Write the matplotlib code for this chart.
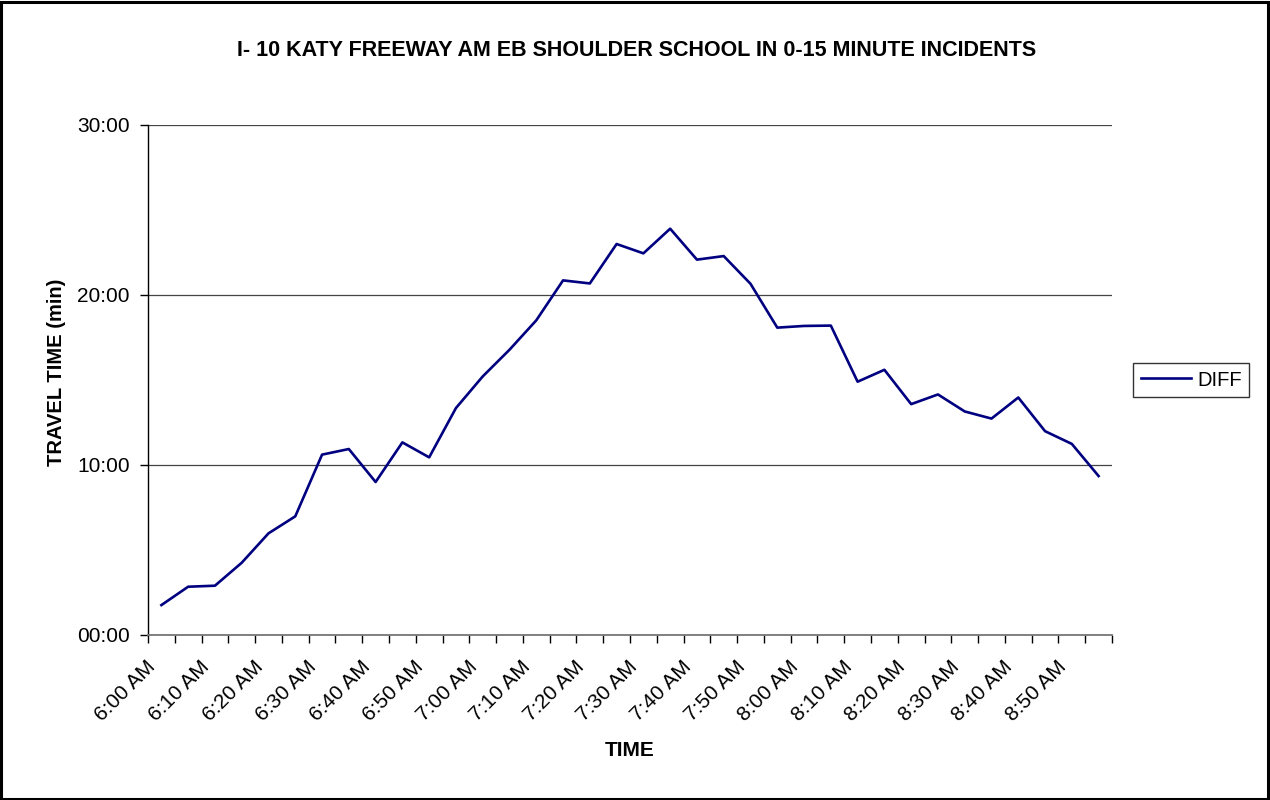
import matplotlib
matplotlib.use("Agg")
import matplotlib.pyplot as plt
from matplotlib.ticker import FuncFormatter, FixedLocator, NullFormatter
from matplotlib.patches import Rectangle

plt.rcParams['font.family'] = ['Liberation Sans', 'DejaVu Sans']

# Departure times (5-minute intervals) and travel time difference in minutes
times = ["6:00 AM", "6:05 AM", "6:10 AM", "6:15 AM", "6:20 AM", "6:25 AM",
         "6:30 AM", "6:35 AM", "6:40 AM", "6:45 AM", "6:50 AM", "6:55 AM",
         "7:00 AM", "7:05 AM", "7:10 AM", "7:15 AM", "7:20 AM", "7:25 AM",
         "7:30 AM", "7:35 AM", "7:40 AM", "7:45 AM", "7:50 AM", "7:55 AM",
         "8:00 AM", "8:05 AM", "8:10 AM", "8:15 AM", "8:20 AM", "8:25 AM",
         "8:30 AM", "8:35 AM", "8:40 AM", "8:45 AM", "8:50 AM", "8:55 AM"]
diff = [1.76, 2.84, 2.90, 4.25, 5.98, 6.98,
        10.61, 10.94, 9.00, 11.33, 10.45, 13.35,
        15.21, 16.78, 18.51, 20.86, 20.68, 23.00,
        22.45, 23.90, 22.08, 22.29, 20.66, 18.08,
        18.18, 18.20, 14.90, 15.60, 13.58, 14.15,
        13.15, 12.73, 13.97, 11.99, 11.24, 9.35]
y_ticks = [0, 10, 20, 30]

W, H = 1270, 800
fig = plt.figure(figsize=(W / 100, H / 100), dpi=100)
fig.patch.set_facecolor("white")
fig.add_artist(Rectangle((1.2 / W, 1.2 / H), (W - 3.2) / W, (H - 2.8) / H,
                         transform=fig.transFigure, fill=False,
                         edgecolor="black", linewidth=2.2))

ax = fig.add_axes([148 / W, 1 - 635 / H, (1112 - 148) / W, (635 - 125) / H])
x = list(range(len(times)))
ax.plot(x, diff, color="#000080", linewidth=1.9, label="DIFF")

ax.set_xlim(-0.5, len(times) - 0.5)
ax.set_ylim(0, 30)

def mmss(v, pos=None):
    m = int(v)
    s = int(round((v - m) * 60))
    return f"{m:02d}:{s:02d}"

ax.yaxis.set_major_locator(FixedLocator(y_ticks))
ax.yaxis.set_major_formatter(FuncFormatter(mmss))
ax.grid(axis="y", color="#444444", linewidth=0.9)
ax.set_axisbelow(True)

# tick marks on category boundaries
ax.set_xticks([i - 0.5 for i in range(len(times) + 1)])
ax.xaxis.set_major_formatter(NullFormatter())
ax.tick_params(axis="x", direction="out", length=6, width=1, color="black")
ax.tick_params(axis="y", direction="out", length=6, width=1, labelsize=15, pad=7)

# slanted time labels for every other category
for i in x[::2]:
    ax.annotate(times[i], xy=(i, 0), xycoords=ax.get_xaxis_transform(),
                xytext=(-11, -16), textcoords="offset points",
                rotation=45, rotation_mode="anchor", ha="right", va="top",
                fontsize=15, annotation_clip=False)

for side in ("top", "right"):
    ax.spines[side].set_visible(False)
ax.spines["left"].set_color("black")
ax.spines["bottom"].set_color("#777777")
ax.spines["left"].set_linewidth(1)
ax.spines["bottom"].set_linewidth(1.3)

fig.text(56 / W, 1 - 372 / H, "TRAVEL TIME (min)", rotation=90, ha="center", va="center",
         fontsize=14.5, fontweight="bold")
fig.text(630 / W, 1 - 751 / H, "TIME", ha="center", va="center",
         fontsize=15, fontweight="bold")
fig.text(637 / W, 1 - 50 / H, "I- 10 KATY FREEWAY AM EB SHOULDER SCHOOL IN 0-15 MINUTE INCIDENTS",
         ha="center", va="center", fontsize=15.5, fontweight="bold")

leg = ax.legend(loc="center left", bbox_to_anchor=(1133 / W, 1 - 380 / H),
                bbox_transform=fig.transFigure, frameon=True, fancybox=False,
                fontsize=14.5, handlelength=2.5, borderpad=0.38, handletextpad=0.3,
                borderaxespad=0)
leg.get_frame().set_edgecolor("black")
leg.get_frame().set_linewidth(1)

fig.savefig("out.png", dpi=100)
